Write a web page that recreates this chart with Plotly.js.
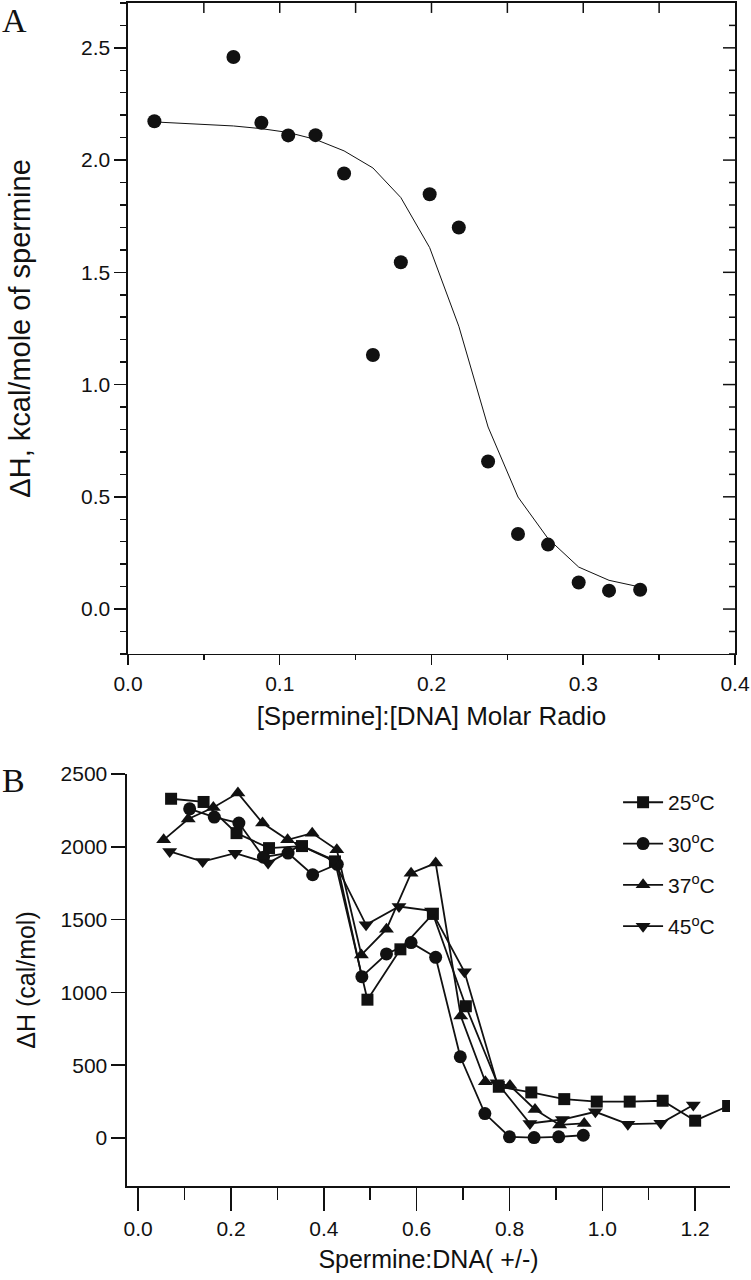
<!DOCTYPE html>
<html><head><meta charset="utf-8">
<script src="https://cdn.plot.ly/plotly-3.0.1.min.js"></script>
<style>html,body{margin:0;padding:0;background:#fff}#chart{width:751px;height:1280px}</style>
</head><body><div id="chart"></div>
<script>
// Panel A: enthalpy vs molar ratio
const ratioA = [0.0174, 0.0695, 0.0879, 0.1056, 0.1236, 0.1424, 0.1614, 0.1798, 0.1988, 0.2180, 0.2373, 0.2570, 0.2768, 0.2970, 0.3170, 0.3375];
const dHA    = [2.173, 2.459, 2.166, 2.110, 2.111, 1.940, 1.132, 1.545, 1.848, 1.700, 0.657, 0.334, 0.287, 0.118, 0.082, 0.086];
const fitA   = [2.170, 2.152, 2.140, 2.123, 2.092, 2.041, 1.965, 1.833, 1.610, 1.260, 0.811, 0.499, 0.314, 0.187, 0.128, 0.098];

// Panel B: four temperatures
const x25 = [0.071, 0.141, 0.212, 0.282, 0.353, 0.424, 0.494, 0.565, 0.635, 0.706, 0.777, 0.847, 0.918, 0.988, 1.059, 1.130, 1.200, 1.271];
const y25 = [2330, 2308, 2094, 1991, 2005, 1900, 950, 1296, 1539, 905, 352, 313, 267, 250, 250, 256, 119, 220];
const x30 = [0.111, 0.164, 0.217, 0.270, 0.323, 0.376, 0.429, 0.482, 0.535, 0.588, 0.641, 0.694, 0.747, 0.800, 0.853, 0.906, 0.959];
const y30 = [2261, 2204, 2163, 1929, 1957, 1808, 1880, 1108, 1264, 1342, 1241, 558, 168, 8, 3, 8, 19];
const x37 = [0.055, 0.108, 0.162, 0.215, 0.268, 0.322, 0.375, 0.428, 0.481, 0.535, 0.588, 0.641, 0.695, 0.748, 0.801, 0.855, 0.908, 0.961];
const y37 = [2048, 2191, 2270, 2369, 2163, 2048, 2094, 1980, 1257, 1434, 1819, 1888, 838, 386, 360, 196, 90, 100];
const x45 = [0.068, 0.139, 0.209, 0.280, 0.350, 0.421, 0.491, 0.562, 0.632, 0.703, 0.773, 0.844, 0.914, 0.985, 1.055, 1.126, 1.196];
const y45 = [1968, 1899, 1956, 1888, 2010, 1910, 1464, 1590, 1560, 1142, 380, 100, 127, 180, 95, 101, 227];

const seriesNames = ['25<sup>o</sup>C', '30<sup>o</sup>C', '37<sup>o</sup>C', '45<sup>o</sup>C'];
const seriesSymbols = ['square', 'circle', 'triangle-up', 'triangle-down'];

const W = 751, H = 1280;
const INK = '#111';
const FONT = 'Liberation Sans, Arial, sans-serif';
const rangeAx = [0, 0.4];
const rangeAy = [-0.2, 2.7];
const domAx = [0.1704, 0.9787];
const domAy = [0.4891, 0.9977];

const bSeries = [[x25, y25], [x30, y30], [x37, y37], [x45, y45]];
const traces = [
  {x: ratioA, y: fitA, xaxis: 'x', yaxis: 'y', mode: 'lines', line: {color: INK, width: 1}, showlegend: false, hoverinfo: 'skip'},
  {x: ratioA, y: dHA, xaxis: 'x', yaxis: 'y', mode: 'markers', marker: {symbol: 'circle', size: 14, color: INK}, showlegend: false}
];

// Inside tick marks on the top and right frame of panel A, placed from the axis ranges
const pxX = (rangeAx[1] - rangeAx[0]) / ((domAx[1] - domAx[0]) * W);  // data units per pixel
const pxY = (rangeAy[1] - rangeAy[0]) / ((domAy[1] - domAy[0]) * H);
const fx = [], fy = [];
for (let i = 1; i * 0.05 < rangeAx[1] - 1e-9; i++) {
  const v = +(i * 0.05).toFixed(2);
  fx.push(v, v, null); fy.push(rangeAy[1], rangeAy[1] - 10 * pxY, null);
}
for (let i = Math.ceil(rangeAy[0] / 0.1 - 1e-9); i * 0.1 < rangeAy[1] - 1e-9; i++) {
  const v = +(i * 0.1).toFixed(1);
  const len = (i % 5 === 0) ? 12 : 6;
  fx.push(rangeAx[1], rangeAx[1] - len * pxX, null); fy.push(v, v, null);
}
traces.push({x: fx, y: fy, xaxis: 'x', yaxis: 'y', mode: 'lines', line: {color: INK, width: 1.5},
             connectgaps: false, showlegend: false, hoverinfo: 'skip', cliponaxis: false});

bSeries.forEach((s, i) => {
  traces.push({
    x: s[0], y: s[1], xaxis: 'x2', yaxis: 'y2', mode: 'lines+markers', name: seriesNames[i],
    legendgroup: 'g' + i,
    line: {color: INK, width: 1.8},
    marker: {symbol: seriesSymbols[i], size: i === 0 ? 12 : 13, color: INK}
  });
});

const tickFont = {family: FONT, size: 21, color: INK};
const titleFont = {family: FONT, size: 25, color: INK};

const layout = {
  width: W, height: H,
  margin: {l: 0, r: 0, t: 0, b: 0},
  paper_bgcolor: '#fff', plot_bgcolor: '#fff',
  font: {family: FONT, color: INK},
  showlegend: true,
  legend: {x: 0.823, xanchor: 'left', y: 0.389, yanchor: 'top', font: {family: FONT, size: 21, color: INK},
           itemwidth: 40, tracegroupgap: 11, bgcolor: 'rgba(0,0,0,0)'},
  xaxis: {domain: domAx, anchor: 'y', range: rangeAx, dtick: 0.1, tick0: 0, tickformat: '.1f',
          ticks: 'outside', ticklen: 10, tickwidth: 1.5, tickcolor: INK,
          minor: {dtick: 0.05, ticks: 'outside', ticklen: 5, tickwidth: 1.5, tickcolor: INK},
          showline: true, linecolor: INK, linewidth: 1.5, mirror: true, showgrid: false, zeroline: false,
          tickfont: tickFont, title: {text: '[Spermine]:[DNA] Molar Radio', font: {family: FONT, size: 26, color: INK}, standoff: 13}},
  yaxis: {domain: domAy, anchor: 'x', range: rangeAy, dtick: 0.5, tick0: 0, tickformat: '.1f',
          ticks: 'outside', ticklen: 12, tickwidth: 1.5, tickcolor: INK,
          minor: {dtick: 0.1, ticks: 'outside', ticklen: 6, tickwidth: 1.5, tickcolor: INK},
          showline: true, linecolor: INK, linewidth: 1.5, mirror: true, showgrid: false, zeroline: false,
          tickfont: tickFont, title: {text: 'ΔH, kcal/mole of spermine', font: {family: FONT, size: 29, color: INK}, standoff: 42}},
  xaxis2: {domain: [0.1691, 0.972], anchor: 'y2', range: [-0.024, 1.275], dtick: 0.2, tick0: 0, tickformat: '.1f',
           ticks: 'outside', ticklen: 23, tickwidth: 1.5, tickcolor: INK,
           minor: {dtick: 0.1, ticks: 'outside', ticklen: 12, tickwidth: 1.5, tickcolor: INK},
           showline: true, linecolor: INK, linewidth: 1.5, showgrid: false, zeroline: false,
           tickfont: tickFont, title: {text: 'Spermine:DNA( +/-)', font: titleFont, standoff: 12}},
  yaxis2: {domain: [0.0734, 0.3953], anchor: 'x2', range: [-330, 2500], dtick: 500, tick0: 0,
           ticks: 'outside', ticklen: 14, tickwidth: 1.5, tickcolor: INK,
           showline: true, linecolor: INK, linewidth: 1.5, showgrid: false, zeroline: false,
           tickfont: tickFont, title: {text: 'ΔH (cal/mol)', font: titleFont, standoff: 18}},
  annotations: [
    {text: 'A', xref: 'paper', yref: 'paper', x: 0.0, y: 1.0, xanchor: 'left', yanchor: 'top', showarrow: false,
     font: {family: 'Liberation Serif, Times New Roman, serif', size: 34, color: INK}},
    {text: 'B', xref: 'paper', yref: 'paper', x: 0.0, y: 0.4063, xanchor: 'left', yanchor: 'top', showarrow: false,
     font: {family: 'Liberation Serif, Times New Roman, serif', size: 34, color: INK}}
  ]
};

Plotly.newPlot('chart', traces, layout, {displayModeBar: false, staticPlot: true});
</script>
</body></html>
